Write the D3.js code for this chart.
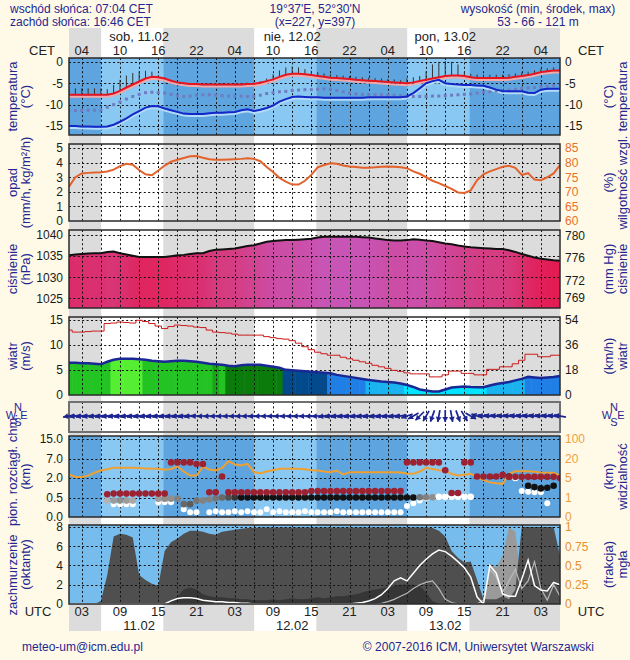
<!DOCTYPE html>
<html><head><meta charset="utf-8">
<script src="https://cdn.jsdelivr.net/npm/d3@7/dist/d3.min.js"></script>
<style>
html,body{margin:0;padding:0;background:#fffae8;}
svg{display:block;font-family:"Liberation Sans",Arial,Helvetica,sans-serif;}
</style></head><body>
<svg id="chart" width="630" height="660"></svg>
<script>
// ================= DATA =================
const hours = d3.range(1, 79); // hours after 00 UTC 11.02
const sunriseUTC = [6.07, 30.07, 54.07];
const sunsetUTC  = [15.77, 39.77, 63.77];
const labelHours = [3,9,15,21,27,33,39,45,51,57,63,69,75];
const cetLabels = ["04","10","16","22","04","10","16","22","04","10","16","22","04"];
const utcLabels = ["03","09","15","21","03","09","15","21","03","09","15","21","03"];
const dayHours = [12, 36, 60];
const dayLabelsTop = ["sob, 11.02","nie, 12.02","pon, 13.02"];
const dayLabelsBottom = ["11.02","12.02","13.02"];
const headerLeft = ["wschód słońca: 07:04 CET","zachód słońca: 16:46 CET"];
const headerMid = ["19°37'E, 52°30'N","(x=227,  y=397)"];
const headerRight = ["wysokość (min, środek, max)","53 - 66 - 121 m"];
const footerLeft = "meteo-um@icm.edu.pl";
const footerRight = "© 2007-2016 ICM, Uniwersytet Warszawski";

const temp = [-7.7,-7.7,-7.7,-7.7,-7.7,-7.7,-7.7,-7.4,-6.8,-6.0,
 -5.3,-4.6,-3.9,-3.5,-3.6,-3.9,-4.4,-4.8,-5.0,-5.2,
 -5.2,-5.3,-5.3,-5.3,-5.3,-5.3,-5.3,-5.3,-5.2,-5.1,
 -4.9,-4.5,-4.1,-3.5,-3.0,-2.8,-2.8,-2.9,-3.1,-3.3,
 -3.5,-3.7,-3.8,-3.9,-4.0,-4.2,-4.3,-4.4,-4.5,-4.6,
 -4.7,-4.8,-4.9,-5.0,-4.8,-4.5,-4.2,-3.9,-3.6,-3.3,
 -3.2,-3.2,-3.3,-3.6,-3.8,-3.8,-3.8,-3.8,-3.8,-3.7,
 -3.5,-3.3,-3.1,-2.8,-2.4,-2.2,-2.0,-2.0];
const dewPoint = [-15.0,-15.0,-15.1,-15.1,-15.2,-15.2,-15.1,-14.7,-14.0,-13.2,
 -12.3,-11.5,-10.7,-10.3,-10.4,-10.9,-11.3,-11.7,-12.1,-12.2,
 -12.2,-12.2,-12.0,-11.9,-11.9,-11.8,-11.7,-11.3,-11.1,-11.5,
 -11.2,-10.8,-10.2,-9.3,-8.7,-8.2,-8.1,-8.2,-8.3,-8.3,
 -8.4,-8.4,-8.4,-8.4,-8.4,-8.4,-8.4,-8.3,-8.3,-8.3,
 -8.3,-8.3,-8.3,-8.1,-7.3,-6.2,-5.0,-4.5,-4.2,-5.0,
 -5.2,-5.3,-5.4,-5.4,-5.5,-5.6,-6.0,-6.5,-6.8,-6.9,
 -6.9,-6.9,-7.2,-7.3,-6.5,-6.3,-6.3,-6.3];
const windChill = [-11.5,-11.4,-11.4,-11.3,-11.3,-11.3,-10.6,-10.0,-9.4,-8.7,
 -8.1,-7.6,-7.2,-7.1,-7.2,-7.3,-7.6,-7.9,-8.1,-8.0,
 -7.8,-7.7,-7.7,-7.8,-7.9,-8.0,-8.0,-8.0,-8.1,-8.1,
 -7.8,-7.4,-7.2,-7.0,-6.9,-6.7,-6.6,-6.5,-6.5,-6.4,
 -6.3,-6.4,-6.7,-7.0,-7.3,-7.5,-7.6,-7.6,-7.7,-7.7,
 -7.8,-7.8,-7.9,-8.1,-8.1,-8.1,-8.1,-8.0,-8.0,-7.9,
 -7.8,-7.7,-7.6,-7.5,-7.3,-7.1,-7.0,-6.8,-6.8,-6.6,
 -6.4,-6.2,-6.1,-6.0,-5.8,-5.7,-5.5,-5.4];
const tempSpread = [1.4,1.5,1.5,1.5,1.5,1.5,1.3,2.0,2.6,2.8,
 2.7,2.4,1.8,1.2,0.5,0.3,0.2,0.2,0.2,0.2,
 0.3,0.3,0.3,0.3,0.3,0.3,0.3,0.3,0.3,0.3,
 0.4,0.6,1.2,1.5,1.7,1.7,1.5,1.2,1.0,0.9,
 0.8,0.8,0.7,0.7,0.7,0.7,0.7,0.7,0.7,0.7,
 0.7,0.7,0.6,1.2,1.2,1.2,2.0,3.3,3.6,3.5,
 3.2,2.6,0.9,0.8,0.8,0.8,0.8,0.8,0.8,0.8,
 0.8,0.8,0.8,0.8,0.8,0.7,0.7,0.7];
const precipitation = hours.map(() => 0);
const humidity = [71.8,75.0,76.3,76.5,76.6,76.7,77.0,77.6,78.8,79.6,
 79.3,77.5,76.0,75.7,77.3,79.0,80.3,81.0,81.6,82.2,
 82.3,81.7,81.2,81.0,81.0,81.1,81.2,81.3,81.5,81.3,
 80.5,78.5,76.8,74.8,73.5,72.5,72.5,73.8,75.8,78.4,
 79.2,79.8,79.6,79.0,78.7,78.5,78.3,78.3,78.4,78.6,
 78.7,78.6,78.4,78.1,77.0,76.2,75.0,73.8,73.0,72.0,
 71.0,69.8,69.6,70.5,74.0,76.0,77.0,77.8,78.6,78.9,
 78.2,75.8,76.4,74.2,74.0,75.0,76.3,79.2];
const pressure = [1035.2,1035.4,1035.5,1035.6,1035.7,1035.7,1036.0,1036.1,1035.7,1035.4,
 1035.1,1034.8,1034.8,1034.8,1034.8,1034.8,1035.0,1035.2,1035.3,1035.5,
 1035.7,1035.7,1036.2,1036.5,1036.6,1036.7,1036.8,1037.1,1037.4,1037.6,
 1038.0,1038.4,1038.6,1038.7,1038.8,1038.8,1038.9,1039.0,1039.1,1039.4,
 1039.6,1039.6,1039.6,1039.6,1039.6,1039.6,1039.5,1039.4,1039.2,1039.0,
 1038.8,1038.7,1038.7,1038.8,1039.0,1038.9,1038.7,1038.6,1038.3,1038.0,
 1037.8,1037.5,1037.3,1037.1,1037.0,1036.9,1036.8,1036.7,1036.7,1036.4,
 1036.0,1035.5,1035.1,1034.7,1034.4,1034.2,1034.0,1033.9];
const windSpeed = [6.4,6.4,6.3,6.3,6.2,6.1,6.6,7.0,7.2,7.2,
 7.2,7.1,7.0,6.8,6.7,6.6,6.7,6.8,6.8,6.7,
 6.6,6.4,6.2,6.1,6.0,5.8,5.7,5.9,6.0,6.0,
 6.0,5.8,5.6,5.4,5.0,4.9,4.8,4.7,4.6,4.5,
 4.4,4.3,4.0,3.8,3.6,3.4,3.2,3.0,2.85,2.7,
 2.6,2.5,2.3,2.0,1.6,1.1,0.9,0.7,0.7,1.1,
 1.5,1.6,1.7,1.6,1.55,1.55,1.9,2.2,2.4,2.6,
 2.9,3.2,3.6,3.5,3.4,3.5,3.6,3.8];
const windGust = [12.9,12.5,12.5,12.6,12.7,12.7,14.2,14.3,14.5,14.4,
 14.3,14.85,14.6,14.2,13.7,13.2,13.6,13.9,13.8,13.7,
 13.5,13.4,12.9,12.5,12.4,12.3,12.1,11.9,11.9,11.9,
 11.9,11.6,11.4,11.2,11.1,10.8,10.3,9.6,9.0,8.5,
 8.2,7.9,7.9,7.5,7.2,6.9,6.6,6.3,5.9,5.6,
 5.3,4.9,4.7,4.4,4.2,4.2,4.2,3.6,3.6,4.0,
 4.75,4.75,4.3,4.3,4.0,4.0,5.1,5.1,5.6,5.6,
 6.2,6.9,8.1,8.1,7.6,7.6,7.9,7.9];
// wind fill class (0 lime,1 green,2 mid green,3 dark green,4 navy,5 blue,6 light blue,7 cyan)
const windClass = [1,1,1,1,1,1,1,0,0,0,
 0,0,1,1,1,1,1,1,1,1,
 1,1,1,2,1,3,3,3,3,3,
 3,3,3,3,4,4,4,4,4,4,
 4,5,5,5,5,5,5,6,6,6,
 6,6,6,7,7,7,7,7,7,7,
 7,7,7,7,7,7,6,6,6,6,
 6,6,5,5,5,5,5,5];
// wind direction (degrees, direction the wind blows from)
const windDir = [80,80,80,80,80,80,80,80,80,80,
 80,80,80,80,80,80,80,80,80,80,
 85,85,85,85,85,85,85,85,85,85,
 85,85,85,85,85,85,85,85,85,85,
 80,80,80,80,80,80,80,80,80,80,
 80,80,80,70,60,45,30,20,10,0,
 350,340,330,300,110,100,100,100,100,100,
 100,100,100,100,100,100,100,100];
const cloudTop = [null,null,null,null,null,null,0.75,0.8,0.8,0.8,
 0.8,0.8,0.8,0.8,0.8,0.8,6.0,6.0,6.0,6.0,
 5.6,5.6,0.9,0.9,2.4,0.9,0.9,0.9,0.9,0.9,
 0.9,0.9,0.9,0.9,0.9,0.9,0.9,0.9,1.0,1.0,
 1.0,1.0,1.0,1.0,1.0,1.0,1.0,1.0,1.0,1.0,
 1.0,1.0,1.0,6.0,6.0,6.0,6.0,6.0,6.0,4.0,
 0.85,0.85,6.0,6.0,2.4,2.4,2.4,2.4,2.8,2.3,
 2.3,2.3,2.3,2.3,2.3,2.3,2.3,2.0];
const cloudBase = [null,null,null,null,null,null,0.42,0.42,0.42,0.42,
 0.42,null,null,null,0.47,0.47,0.47,0.47,0.33,0.33,
 0.42,0.42,0.45,0.48,0.5,0.5,0.5,0.5,0.5,0.5,
 0.5,0.5,0.5,0.5,0.5,0.5,0.5,0.5,0.5,0.5,
 0.5,0.5,0.5,0.5,0.5,0.5,0.5,0.5,0.5,0.5,
 0.5,0.5,0.5,0.5,0.5,0.52,0.52,0.52,0.55,0.55,
 0.55,0.55,0.55,0.55,null,null,null,null,null,2.4,
 2.0,null,1.4,1.3,1.2,1.25,1.4,null];
const cloudDensity = [0,0,0,0,0,0,0.3,0.4,0.45,0.4,
 0.35,0,0,0,0.4,0.45,0.45,0.5,0.6,0.65,
 0.55,0.5,0.5,0.55,0.6,0.7,0.8,0.95,0.95,0.95,
 0.95,0.95,0.95,0.95,0.95,0.95,0.95,0.95,0.95,0.95,
 0.95,0.95,0.95,0.95,0.95,0.95,0.95,0.95,0.95,0.95,
 0.95,0.95,0.95,0.95,0.95,0.55,0.5,0.45,0,0,
 0,0,0,0,0,0,0,0,0,0.95,
 0,0,0.95,0.95,0.95,0.95,0.95,0];
const lowBase = [null,null,null,null,null,null,null,0.33,0.33,0.33,
 0.33,null,null,null,0.38,0.38,0.38,null,0.2,0.12,
 0.12,null,0.12,0.15,0.12,0.12,0.15,0.12,0.15,0.12,
 0.12,0.2,0.12,0.15,0.12,0.12,0.12,0.15,0.12,0.12,
 0.12,0.12,0.15,0.12,0.12,0.12,0.12,0.12,0.12,0.12,
 0.12,0.12,0.12,0.28,0.35,0.42,0.48,null,null,null,
 null,null,null,null,null,null,null,null,null,null,
 null,1.0,0.95,0.9,0.9,0.35,null,null];
const visibility = [7.7,5.8,5.8,6.8,9.0,10.8,11.8,12.8,12.8,12.8,
 12.8,12.6,12.4,12.2,12.1,11.3,12.0,13.8,10.0,6.9,
 6.9,13.8,11.5,10.8,12.8,17.9,15.5,14.6,15.9,9.5,
 8.7,10.0,11.0,12.1,12.1,12.1,12.1,11.8,11.0,10.8,
 10.0,9.5,10.8,7.7,9.5,9.5,9.5,9.5,9.5,9.5,
 9.5,9.5,9.2,8.5,8.2,10.0,12.8,12.0,11.0,10.8,
 8.0,6.9,7.5,8.2,5.6,4.6,4.1,3.9,3.8,8.2,
 10.2,10.2,10.2,9.8,9.3,9.0,9.0,6.9];
const cloudTotal = [0,0,0,0,0,0.3,3.0,7.0,7.3,7.2,
 6.9,3.0,2.5,2.1,1.9,5.5,6.4,6.8,7.3,7.6,
 7.6,7.5,7.3,7.2,7.5,7.6,7.7,7.8,7.9,7.9,
 7.95,7.95,7.95,7.95,7.95,7.95,7.95,7.95,7.95,7.95,
 7.95,7.95,7.95,7.95,7.95,7.95,7.95,7.95,7.95,7.95,
 7.95,7.95,7.95,7.95,7.95,7.95,7.95,7.9,7.6,7.0,
 5.5,4.8,4.3,4.4,2.5,0.5,0.5,0.5,0.8,0.5,
 1.5,8.0,8.0,8.0,8.0,8.0,8.0,5.0];
const cloudMid = [0,0,0,0,0,0,0,0,0,0,
 0,0,0,0,0,0,0,0,0,0,
 0,0,0,0,0,0,0,0,0,0,
 0,0,0,0,0,0,0,0,0,0,
 0,0,0,0,0,0,0,0,0,0,
 0,0,0,0,0,0,0,0,0,0,
 0,0,0,0,0,0.5,4.2,3.8,5.0,8.0,
 7.5,2.0,0,0,0,0,0,0];
const cloudLow = [0,0,0,0,0,0,0,0,0,0,
 0,0,0,0,0,0,0.3,0.8,1.5,1.7,
 1.5,1.0,0.8,0.7,0.7,0.6,0.6,0.5,0.5,0.4,
 0.4,0.4,0.5,0.4,0.5,0.6,0.5,0.5,0.6,0.7,
 0.6,0.7,0.8,0.8,0.9,1.0,1.2,1.4,1.5,1.6,
 1.8,1.9,2.0,2.0,2.0,1.9,1.2,0.3,0,0,
 0,0,0,0,0,0,0,0,0,0,
 0,0,0,0,0,0,0,0];
const fog = [0,0,0,0,0,0,0,0,0,0,
 0,0,0,0,0,0,0.04,0.07,0.08,0.08,
 0.07,0.05,0.04,0.03,0.03,0.02,0.02,0.01,0.01,0,
 0,0,0,0,0,0,0,0,0,0,
 0,0,0,0,0,0.01,0.02,0.04,0.07,0.12,
 0.2,0.3,0.34,0.3,0.4,0.5,0.58,0.65,0.7,0.68,
 0.62,0.55,0.47,0.35,0.09,0.0,0.5,0.4,0.13,0.1,
 0.1,0.32,0.57,0.24,0.18,0.17,0.28,0.25];
const fogLow = [0,0,0,0,0,0,0,0,0,0,
 0,0,0,0,0,0,0,0,0,0,
 0,0,0,0,0,0,0,0,0,0,
 0,0,0,0,0,0,0,0,0,0,
 0,0,0,0,0,0,0,0,0,0.01,
 0.03,0.06,0.1,0.14,0.2,0.25,0.28,0.3,0.2,0.06,
 0.02,0,0,0,0,0.05,0.45,0.35,0.15,0.3,
 0.45,0.2,0.3,0.55,0.2,0.05,0.25,0.1];

// tick values
const tempTicks = [0,-5,-10,-15];
const precTicks = [0,1,2,3,4,5];
const humTicks = [60,65,70,75,80,85];
const presTicks = [1040,1035,1030,1025];
const mmTicks = [780,776,772,769];
const windTicks = [0,5,10,15];
const kmhTicks = [0,18,36,54];
const cldTicks = [0,0.5,2,7,15];
const cldTickLabels = ["0.0","0.5","2.0","7.0","15.0"];
const visTicks = [0,1,5,20,100];
const covTicks = [0,2,4,6,8];
const fogTicks = [0,0.25,0.5,0.75,1];
const fogTickLabels = ["0","0.25","0.5","0.75","1"];

// ================= DRAWING =================
const FONT = '"Liberation Sans",Arial,Helvetica,sans-serif';
const NAVY = "#262691";
const svg = d3.select("#chart");
const X0 = 69, X1 = 560;
const x = d3.scaleLinear().domain([1, 78]).range([X0, X1]);

const P = {
  temp:{y0:58,y1:135}, prec:{y0:144,y1:221}, pres:{y0:230,y1:308},
  wind:{y0:317,y1:395}, dir:{y0:402,y1:432}, cld:{y0:436,y1:517}, cov:{y0:525,y1:604}
};

svg.append("rect").attr("width",630).attr("height",660).attr("fill","#fffae8");

const nights = [[1, sunriseUTC[0]]].concat(sunsetUTC.map((s,i)=>[s, i<2 ? sunriseUTC[i+1] : 78]));
const days = sunriseUTC.map((s,i)=>[s, sunsetUTC[i]]);

const bands = svg.append("g");
nights.forEach(n => bands.append("rect").attr("x",x(n[0])).attr("width",x(n[1])-x(n[0]))
  .attr("y",28).attr("height",603).attr("fill","#dcdcdc"));
days.forEach(d => bands.append("rect").attr("x",x(d[0])).attr("width",x(d[1])-x(d[0]))
  .attr("y",28).attr("height",603).attr("fill","#ffffff"));

const defs = svg.append("defs");
Object.entries(P).forEach(([k,p]) => {
  defs.append("clipPath").attr("id","clip-"+k).append("rect")
    .attr("x",X0).attr("y",p.y0).attr("width",X1-X0).attr("height",p.y1-p.y0);
});
function layer(k){ return svg.append("g").attr("clip-path","url(#clip-"+k+")"); }

function blueBg(k, dayCol, nightCol){
  const g = layer(k), p = P[k];
  nights.forEach(n => g.append("rect").attr("x",x(n[0])).attr("width",x(n[1])-x(n[0]))
    .attr("y",p.y0).attr("height",p.y1-p.y0).attr("fill",nightCol));
  days.forEach(d => g.append("rect").attr("x",x(d[0])).attr("width",x(d[1])-x(d[0]))
    .attr("y",p.y0).attr("height",p.y1-p.y0).attr("fill",dayCol));
}
const gridHours = d3.range(3, 78, 3);
function grid(k, yScale, vals){
  const g = svg.append("g").attr("stroke","#111").attr("stroke-width",1).attr("stroke-dasharray","2,2.4");
  const p = P[k];
  gridHours.forEach(h => g.append("line").attr("x1",Math.round(x(h))+0.5).attr("x2",Math.round(x(h))+0.5)
    .attr("y1",p.y0).attr("y2",p.y1));
  if (yScale) vals.forEach(v => {
    const yy = Math.round(yScale(v))+0.5;
    if (yy > p.y0+1 && yy < p.y1-1) g.append("line").attr("x1",X0).attr("x2",X1).attr("y1",yy).attr("y2",yy);
  });
}
function border(k, col, w){
  const p = P[k];
  svg.append("rect").attr("x",X0).attr("y",p.y0).attr("width",X1-X0).attr("height",p.y1-p.y0)
    .attr("fill","none").attr("stroke",col).attr("stroke-width",w);
}
function axisL(scale, vals, fmt, col){
  const g = svg.append("g").attr("transform","translate(63,0)")
    .call(d3.axisLeft(scale).tickValues(vals).tickFormat(fmt).tickSize(0).tickPadding(0));
  g.select(".domain").remove();
  g.attr("font-size",12).attr("font-family",FONT);
  g.selectAll("text").attr("fill",col);
}
function axisR(scale, vals, fmt, col){
  const g = svg.append("g").attr("transform","translate(565,0)")
    .call(d3.axisRight(scale).tickValues(vals).tickFormat(fmt).tickSize(0).tickPadding(0));
  g.select(".domain").remove();
  g.attr("font-size",12).attr("font-family",FONT);
  g.selectAll("text").attr("fill",col);
}
function titles(k, left, right, leftCy){
  const p = P[k], cy = (p.y0+p.y1)/2;
  [[12,left[0],leftCy||cy],[25,left[1],cy],[608,right[0],cy],[622,right[1],cy]].forEach(([tx,t,ty]) => {
    svg.append("text").attr("transform",`translate(${tx},${ty}) rotate(-90)`)
      .attr("text-anchor","middle").attr("dominant-baseline","central")
      .attr("font-size",13).attr("fill",NAVY).text(t);
  });
}
const fmtStr = d => String(d);

// ---------- header ----------
headerLeft.forEach((t,i)=> svg.append("text").attr("x",10).attr("y",13+13*i).attr("font-size",12).attr("fill",NAVY).text(t));
headerMid.forEach((t,i)=> svg.append("text").attr("x",315).attr("y",13+13*i).attr("text-anchor","middle").attr("font-size",12).attr("fill",NAVY).text(t));
headerRight.forEach((t,i)=> svg.append("text").attr("x",538).attr("y",13+13*i).attr("text-anchor","middle").attr("font-size",12).attr("fill",NAVY).text(t));
dayHours.forEach((h,i)=> svg.append("text").attr("x",x(h)).attr("y",40.5).attr("text-anchor","middle").attr("font-size",13).attr("fill","#222").text(dayLabelsTop[i]));
labelHours.forEach((h,i)=> svg.append("text").attr("x",x(h)).attr("y",54.5).attr("text-anchor","middle").attr("font-size",13).attr("fill","#222").text(cetLabels[i]));
[[42,"CET"],[591,"CET"]].forEach(([tx,t])=> svg.append("text").attr("x",tx).attr("y",54.5).attr("text-anchor","middle").attr("font-size",13).attr("fill","#222").text(t));

// ---------- temperature ----------
const yT = d3.scaleLinear().domain([-17.1, 0.9]).range([P.temp.y1, P.temp.y0]);
blueBg("temp", "#89c8f2", "#5ea5df");
grid("temp", yT, tempTicks);
{
  const g = layer("temp");
  const line = d3.line().x((d,i)=>x(hours[i])).y(d=>yT(d));
  hours.forEach((h,i)=> g.append("line").attr("x1",x(h)).attr("x2",x(h))
    .attr("y1",yT(temp[i])).attr("y2",yT(temp[i]+tempSpread[i])).attr("stroke","#333").attr("stroke-width",1));
  g.append("path").attr("d",line(dewPoint)).attr("transform","translate(0,2)").attr("fill","none").attr("stroke","#b4dcf8").attr("stroke-width",2);
  g.append("path").attr("d",line(temp)).attr("transform","translate(0,2)").attr("fill","none").attr("stroke","#f4a8a8").attr("stroke-width",2);
  hours.forEach((h,i)=> g.append("rect").attr("x",x(h)-1.5).attr("y",yT(windChill[i])-1.5).attr("width",3).attr("height",3).attr("fill","#6f7cc0"));
  g.append("path").attr("d",line(dewPoint)).attr("fill","none").attr("stroke","#1428c8").attr("stroke-width",2);
  g.append("path").attr("d",line(temp)).attr("fill","none").attr("stroke","#e8141e").attr("stroke-width",2);
}
border("temp","#2a2a2a",1.5);
axisL(yT, tempTicks, fmtStr, "#1a1a1a");
axisR(yT, tempTicks, fmtStr, "#1a1a1a");
titles("temp", ["temperatura","(°C)"], ["(°C)","temperatura"]);

// ---------- precipitation / humidity ----------
const yP = d3.scaleLinear().domain([0, 5.28]).range([P.prec.y1, P.prec.y0]);
const yH = d3.scaleLinear().domain([60, 86.4]).range([P.prec.y1, P.prec.y0]);
grid("prec", yP, precTicks);
{
  const g = layer("prec");
  g.append("path").attr("d", d3.area().x((d,i)=>x(hours[i])).y0(yP(0)).y1(d=>yP(d))(precipitation)).attr("fill","#2060d0");
  g.append("path").attr("d", d3.line().x((d,i)=>x(hours[i])).y(d=>yH(d))(humidity))
    .attr("fill","none").attr("stroke","#e2622c").attr("stroke-width",2);
}
border("prec","#2a2a2a",1.5);
axisL(yP, precTicks, fmtStr, "#1a1a1a");
axisR(yH, humTicks, fmtStr, "#e8702a");
titles("prec", ["opad","(mm/h, kg/m²/h)"], ["(%)","wilgotność wzgl."]);

// ---------- pressure ----------
const yPr = d3.scaleLinear().domain([1022.7, 1041.2]).range([P.pres.y1, P.pres.y0]);
const yMm = d3.scaleLinear().domain([1022.7/1.33322, 1041.2/1.33322]).range([P.pres.y1, P.pres.y0]);
const pColor = d3.scaleLinear().domain([1034, 1036.5, 1039.5]).range(["#e31c54","#d63a7e","#c854b4"]);
{
  const grad = defs.append("linearGradient").attr("id","presGrad").attr("gradientUnits","userSpaceOnUse")
    .attr("x1",X0).attr("x2",X1).attr("y1",0).attr("y2",0);
  hours.forEach((h,i)=> grad.append("stop").attr("offset",(x(h)-X0)/(X1-X0)).attr("stop-color",pColor(pressure[i])));
  const g = layer("pres");
  g.append("path").attr("d", d3.area().x((d,i)=>x(hours[i])).y0(P.pres.y1).y1(d=>yPr(d))(pressure)).attr("fill","url(#presGrad)");
}
grid("pres", yPr, presTicks);
layer("pres").append("path").attr("d", d3.line().x((d,i)=>x(hours[i])).y(d=>yPr(d))(pressure))
  .attr("fill","none").attr("stroke","#111").attr("stroke-width",2);
border("pres","#2a2a2a",1.5);
axisL(yPr, presTicks, fmtStr, "#1a1a1a");
axisR(yMm, mmTicks, fmtStr, "#1a1a1a");
titles("pres", ["ciśnienie","(hPa)"], ["(mm Hg)","ciśnienie"]);

// ---------- wind ----------
const yW = d3.scaleLinear().domain([0, 15.5]).range([P.wind.y1, P.wind.y0]);
const yK = d3.scaleLinear().domain([0, 15.5*3.6]).range([P.wind.y1, P.wind.y0]);
const windColors = d3.scaleOrdinal().domain(d3.range(8))
  .range(["#55ee33","#22c322","#18a518","#0b7b0b","#034a8c","#1f7fe6","#19b3f0","#00e4ff"]);
{
  defs.append("clipPath").attr("id","windArea").append("path")
    .attr("d", d3.area().x((d,i)=>x(hours[i])).y0(yW(0)).y1(d=>yW(d))(windSpeed));
  const g = layer("wind").append("g").attr("clip-path","url(#windArea)");
  const step = x(2)-x(1);
  hours.forEach((h,i)=> g.append("rect").attr("x",x(h)-step/2).attr("width",step+0.5)
    .attr("y",P.wind.y0).attr("height",P.wind.y1-P.wind.y0).attr("fill",windColors(windClass[i])));
}
grid("wind", yW, windTicks);
{
  const g = layer("wind");
  g.append("path").attr("d", d3.line().curve(d3.curveStep).x((d,i)=>x(hours[i])).y(d=>yW(d))(windGust))
    .attr("fill","none").attr("stroke","#cc1a1a").attr("stroke-width",1);
  g.append("path").attr("d", d3.line().x((d,i)=>x(hours[i])).y(d=>yW(d))(windSpeed))
    .attr("fill","none").attr("stroke","#1a2896").attr("stroke-width",2.5);
}
border("wind","#2a2a2a",1.5);
axisL(yW, windTicks, fmtStr, "#1a1a1a");
axisR(yK, kmhTicks, fmtStr, "#1a1a1a");
titles("wind", ["wiatr","(m/s)"], ["(km/h)","wiatr"]);

// ---------- wind direction ----------
grid("dir", null, []);
border("dir","#707070",2);
{
  const g = svg.append("g");
  const cy = 416, L = 12;
  hours.forEach((h,i)=>{
    const th = (windDir[i]+180)*Math.PI/180;
    const dx = Math.sin(th), dy = -Math.cos(th);
    const cx = x(h);
    const xa = cx - dx*L/2, ya = cy - dy*L/2, xb = cx + dx*L/2, yb = cy + dy*L/2;
    g.append("line").attr("x1",xa).attr("y1",ya).attr("x2",xb).attr("y2",yb).attr("stroke","#1c2490").attr("stroke-width",1.7);
    const bx = xb - dx*5, by = yb - dy*5, px = -dy*2.9, py = dx*2.9;
    g.append("path").attr("d",`M${xb},${yb}L${bx+px},${by+py}L${bx-px},${by-py}Z`).attr("fill","#1c2490");
  });
  [[18,407,"N"],[11,415,"W"],[24,415,"E"],[18,422,"S"],[614,407,"N"],[607,415,"W"],[621,415,"E"],[614,422,"S"]]
    .forEach(([tx,ty,t])=> svg.append("text").attr("x",tx).attr("y",ty).attr("text-anchor","middle")
      .attr("dominant-baseline","central").attr("font-size",11).attr("fill",NAVY).text(t));
}

// ---------- cloud extent / visibility ----------
const cldRange = [517, 497.5, 478, 458.5, 439];
const yC = d3.scaleLinear().domain(cldTicks).range(cldRange);
const yV = d3.scaleLinear().domain(visTicks).range(cldRange);
blueBg("cld", "#89c8f2", "#5ea5df");
grid("cld", yC, cldTicks);
{
  const g = layer("cld");
  g.append("path").attr("d", d3.line().x((d,i)=>x(hours[i])).y(d=>yV(d))(visibility))
    .attr("fill","none").attr("stroke","#f0a030").attr("stroke-width",2);
  const shade = d3.interpolateRgb("#ffffff","#050505");
  hours.forEach((h,i)=>{
    if (lowBase[i] !== null) g.append("circle").attr("cx",x(h)).attr("cy",yC(lowBase[i])).attr("r",3).attr("fill","#ffffff");
  });
  hours.forEach((h,i)=>{
    if (cloudBase[i] !== null) g.append("circle").attr("cx",x(h)).attr("cy",yC(cloudBase[i])).attr("r",3.3).attr("fill",shade(cloudDensity[i]));
  });
  hours.forEach((h,i)=>{
    if (cloudTop[i] !== null) g.append("circle").attr("cx",x(h)).attr("cy",yC(cloudTop[i])).attr("r",3.3).attr("fill","#9c2232");
  });
}
border("cld","#2a2a2a",1.5);
axisL(yC, cldTicks, (d,i)=>cldTickLabels[i], "#1a1a1a");
axisR(yV, visTicks, fmtStr, "#f0a040");
titles("cld", ["pion. rozciągł. chm.","(km)"], ["(km)","widzialność"], 470);

// ---------- cloud cover / fog ----------
const yO = d3.scaleLinear().domain([0, 8.2]).range([P.cov.y1, P.cov.y0]);
const yF = d3.scaleLinear().domain([0, 1.025]).range([P.cov.y1, P.cov.y0]);
{
  const g = layer("cov");
  g.append("rect").attr("x",X0).attr("y",P.cov.y0).attr("width",X1-X0).attr("height",P.cov.y1-P.cov.y0).attr("fill","#76bdee");
  const area = d3.area().x((d,i)=>x(hours[i])).y0(P.cov.y1).y1(d=>yO(d));
  g.append("path").attr("d",area(cloudMid)).attr("fill","#9a9a9a");
  g.append("path").attr("d",area(cloudTotal)).attr("fill","#4f4f4f");
  g.append("path").attr("d",area(cloudLow)).attr("fill","#363636");
}
grid("cov", yO, covTicks);
{
  const g = layer("cov");
  const fl = d3.line().x((d,i)=>x(hours[i])).y(d=>yF(d));
  g.append("path").attr("d",fl(fogLow)).attr("fill","none").attr("stroke","#b8b8b8").attr("stroke-width",1.2);
  g.append("path").attr("d",fl(fog)).attr("fill","none").attr("stroke","#ffffff").attr("stroke-width",1.5);
}
border("cov","#2a2a2a",1.5);
axisL(yO, covTicks, fmtStr, "#1a1a1a");
axisR(yF, fogTicks, (d,i)=>fogTickLabels[i], "#e8902a");
titles("cov", ["zachmurzenie","(oktanty)"], ["(frakcja)","mgła"], 575);

// ---------- bottom axis & footer ----------
labelHours.forEach((h,i)=> svg.append("text").attr("x",x(h)).attr("y",616).attr("text-anchor","middle").attr("font-size",13).attr("fill","#222").text(utcLabels[i]));
[[38,"UTC"],[591,"UTC"]].forEach(([tx,t])=> svg.append("text").attr("x",tx).attr("y",616).attr("text-anchor","middle").attr("font-size",13).attr("fill","#222").text(t));
dayHours.forEach((h,i)=> svg.append("text").attr("x",x(h)).attr("y",629.5).attr("text-anchor","middle").attr("font-size",13).attr("fill","#222").text(dayLabelsBottom[i]));
svg.append("text").attr("x",22).attr("y",651).attr("font-size",12).attr("fill",NAVY).text(footerLeft);
svg.append("text").attr("x",594).attr("y",651).attr("text-anchor","end").attr("font-size",12).attr("fill",NAVY).text(footerRight);
</script>
</body></html>
